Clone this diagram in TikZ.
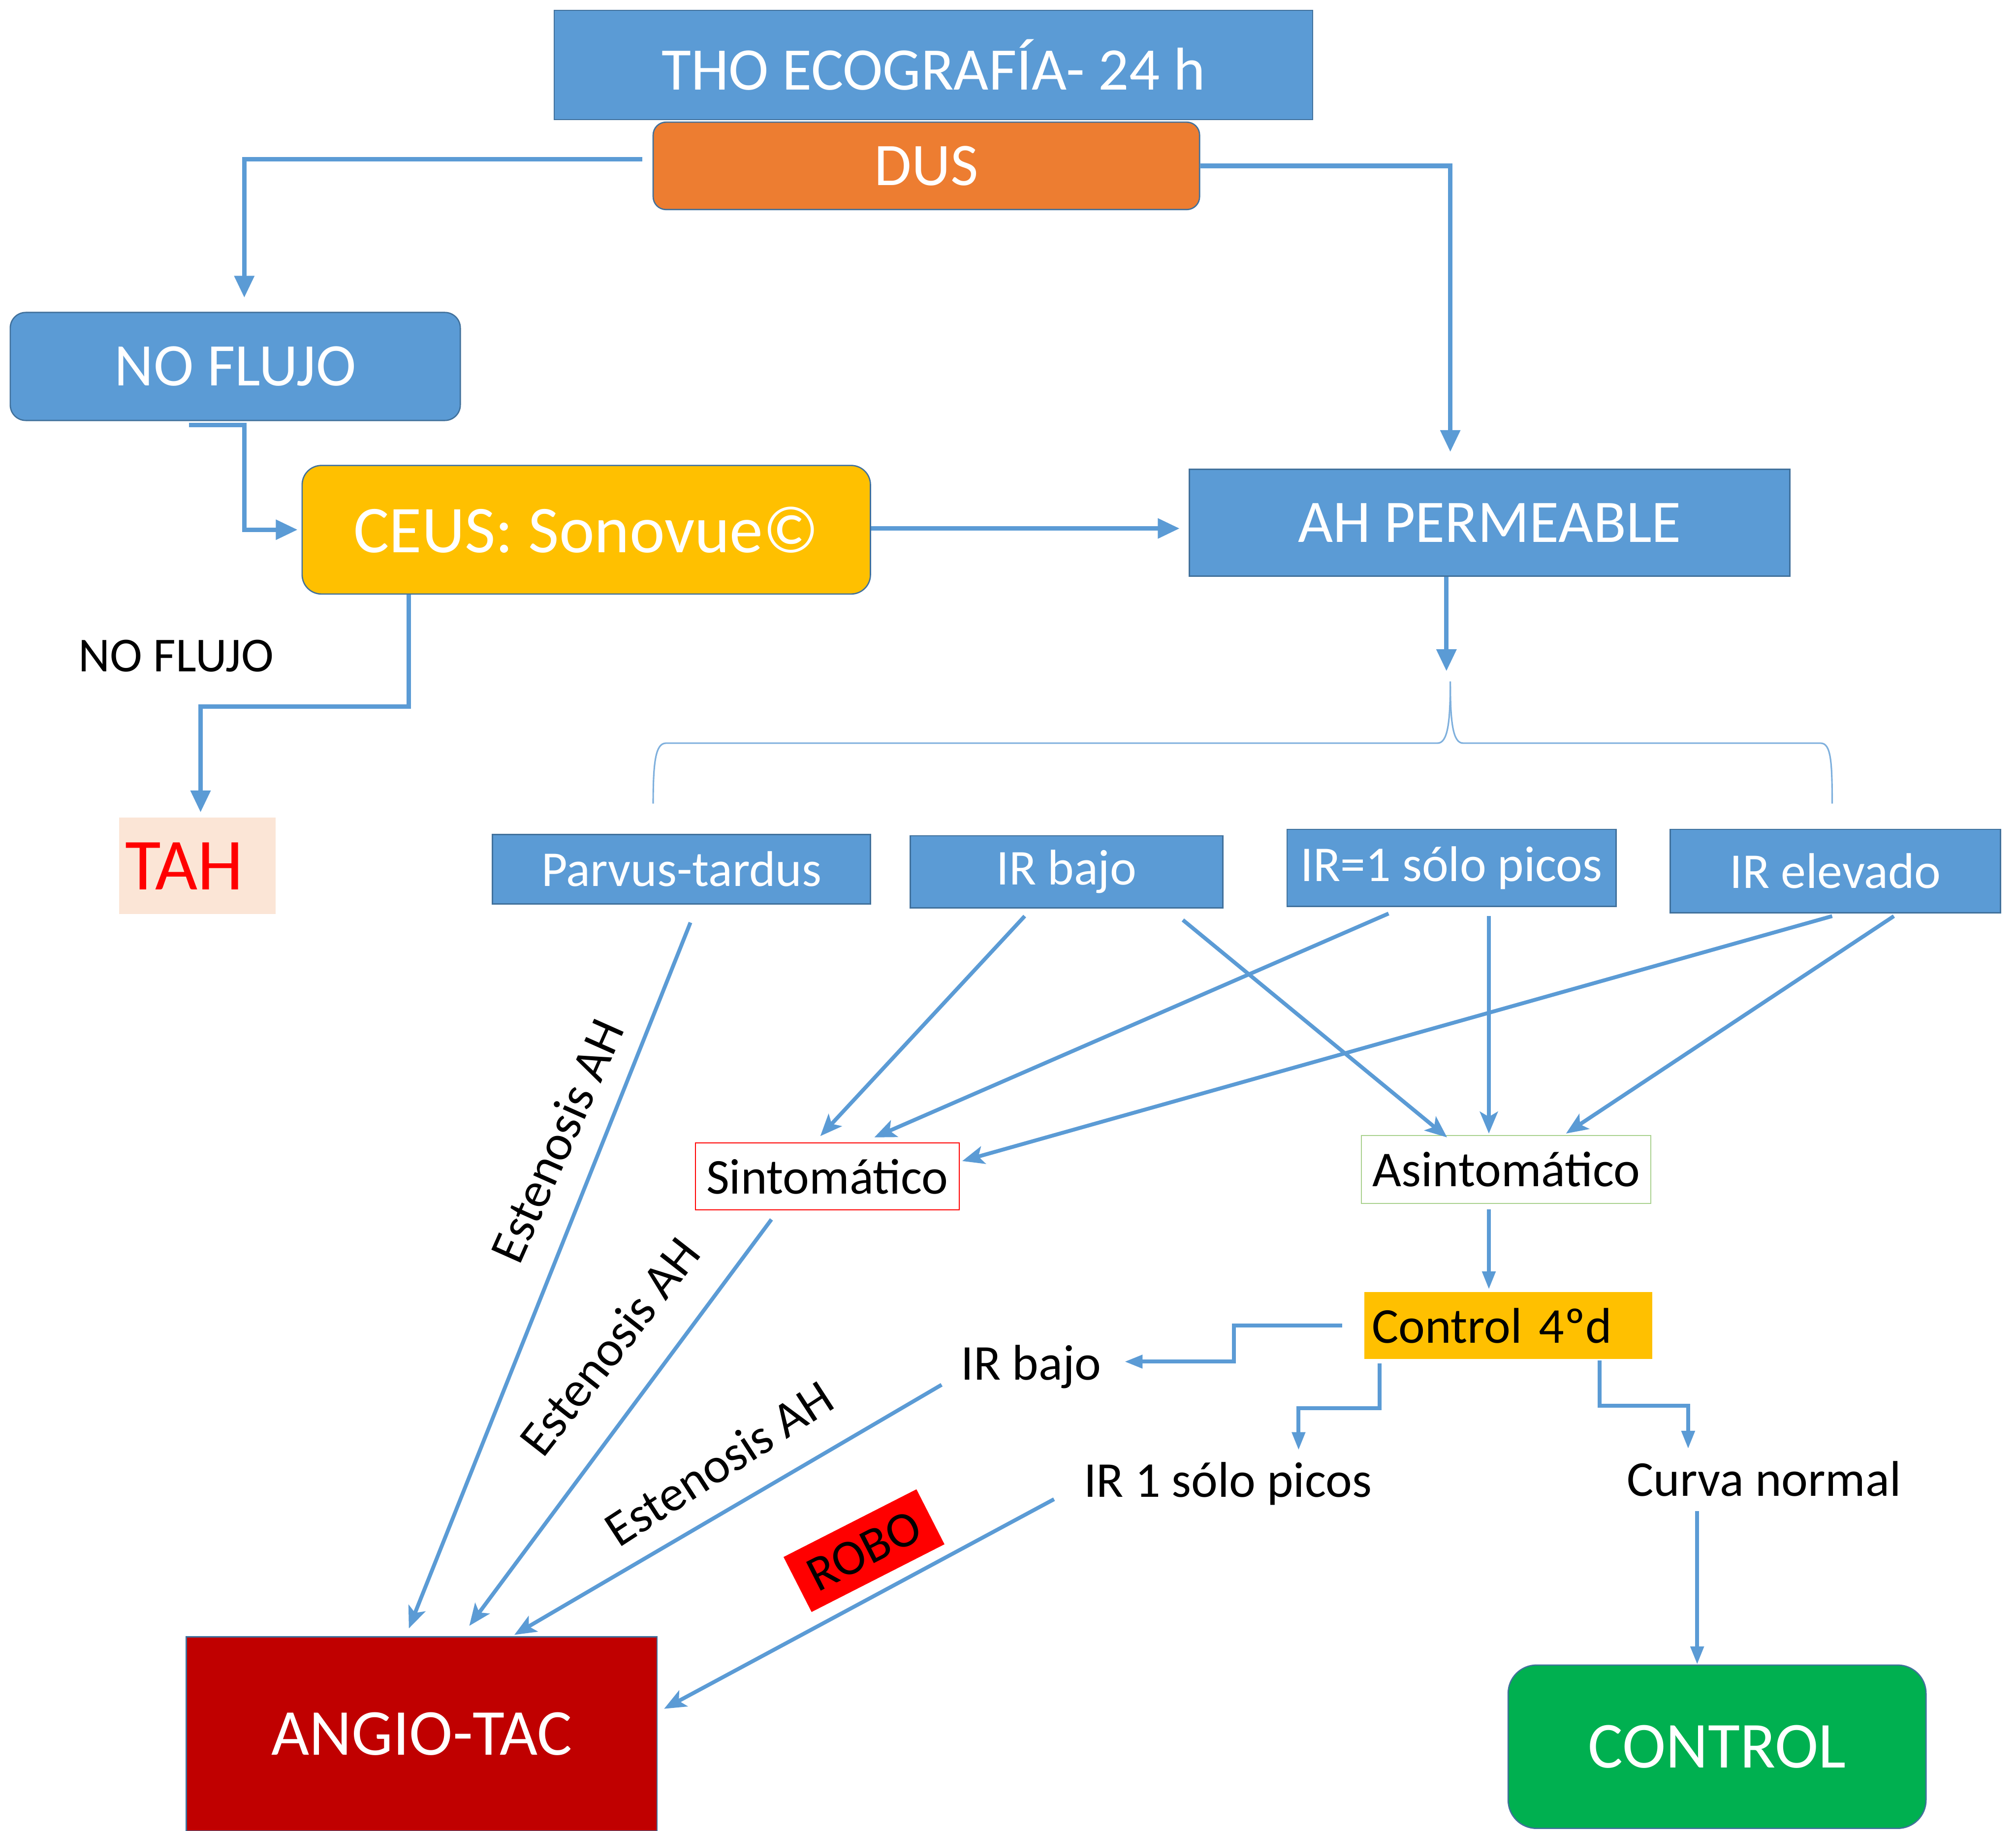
\documentclass[tikz,border=0pt]{standalone}
\usepackage{fontspec}
\setmainfont{Carlito}
\usetikzlibrary{arrows.meta,calc}
\definecolor{cblue}{HTML}{5B9BD5}
\definecolor{cborder}{HTML}{41719C}
\definecolor{corange}{HTML}{ED7D31}
\definecolor{cgold}{HTML}{FFC000}
\definecolor{cdred}{HTML}{C00000}
\definecolor{cgreen}{HTML}{00B050}
\definecolor{cpeach}{HTML}{FBE5D6}
\definecolor{clgreen}{HTML}{A9D18E}
\definecolor{cbrace}{HTML}{7FB0DD}
\tikzset{
  box/.style={inner sep=0pt, text=white, draw=cborder, line width=1pt},
  bluebox/.style={box, fill=cblue},
  lab/.style={inner sep=0pt, minimum height=40pt, text=black},
  conn/.style={draw=cblue, line width=3.5pt, -{Triangle[length=17pt,width=15pt]}},
  diag/.style={draw=cblue, line width=3pt, -{Stealth[length=17pt,width=14pt,inset=4pt]}},
  thinconn/.style={draw=cblue, line width=3pt, -{Triangle[length=14pt,width=10pt]}},
  brace/.style={draw=cbrace, line width=1.2pt},
  big/.style={font=\fontsize{47}{56}\selectfont},
  med/.style={font=\fontsize{39}{46}\selectfont},
}
\begin{document}
\begin{tikzpicture}[x=1pt,y=-1pt]
\useasboundingbox (0,0) rectangle (1568,1424);
% top nodes
\node[bluebox, big, minimum width=590pt, minimum height=85pt] (tho) at (726,50.5) {THO ECOGRAFÍA- 24 h};
\node[box, fill=corange, big, rounded corners=10pt, minimum width=425pt, minimum height=68pt] (dus) at (720.5,129) {DUS};
\node[bluebox, big, rounded corners=12pt, minimum width=350pt, minimum height=84pt] (nfl) at (183,285) {NO FLUJO};
\node[box, fill=cgold, font=\fontsize{52}{60}\selectfont, rounded corners=15pt, minimum width=442pt, minimum height=100pt] (ceus) at (456,412) {CEUS: Sonovue©};
\node[bluebox, big, minimum width=467pt, minimum height=83pt] (ahp) at (1158.5,406.5) {AH PERMEABLE};
\node[lab, font=\fontsize{38}{44}\selectfont] (nfl2) at (137,510) {NO FLUJO};
\node[inner sep=0pt, fill=cpeach, text=red, font=\fontsize{57}{64}\selectfont, minimum width=117pt, minimum height=75pt, text width=112pt, align=left, inner xsep=5pt] (tah) at (153.5,673.5) {TAH};
% level boxes
\node[bluebox, med, minimum width=294pt, minimum height=54pt] (parvus) at (530,676) {Parvus-tardus};
\node[bluebox, med, minimum width=243pt, minimum height=56pt] (irb) at (829.5,678) {IR bajo};
\node[bluebox, med, minimum width=256pt, minimum height=60pt] (ir1) at (1129,675) {IR=1 sólo picos};
\node[bluebox, med, minimum width=257pt, minimum height=65pt] (irel) at (1427.5,677.5) {IR elevado};
\node[inner sep=0pt, draw=red, line width=0.8pt, fill=white, med, minimum width=205pt, minimum height=52pt] (sint) at (643.5,915) {Sintomático};
\node[inner sep=0pt, draw=clgreen, line width=0.8pt, fill=white, med, minimum width=225pt, minimum height=53pt] (asint) at (1171.5,909.5) {Asintomático};
\node[inner sep=0pt, fill=cgold, med, minimum width=224pt, minimum height=52pt, text width=212pt, align=left, inner xsep=6pt] (c4) at (1173,1031) {Control 4ºd};
\node[lab, med] (irb2) at (802,1063) {IR bajo};
\node[lab, med] (ir1l) at (955,1154) {IR 1 sólo picos};
\node[lab, med] (curva) at (1372,1150) {Curva normal};
\node[box, fill=cdred, font=\fontsize{51}{60}\selectfont, minimum width=366pt, minimum height=151pt] (angio) at (328,1348.5) {ANGIO-TAC};
\node[box, fill=cgreen, font=\fontsize{51}{60}\selectfont, rounded corners=22pt, minimum width=325pt, minimum height=127pt] (ctrl) at (1335.5,1358.5) {CONTROL};
% rotated labels
\node[lab, med, rotate=66] (est1) at (433,887) {Estenosis AH};
\node[lab, med, rotate=52] (est2) at (474,1047) {Estenosis AH};
\node[lab, med, rotate=33] (est3) at (559,1138) {Estenosis AH};
\node[inner sep=0pt, fill=red, text=black, font=\fontsize{39}{46}\selectfont, rotate=27, minimum width=116pt, minimum height=48pt] (robo) at (672,1206) {ROBO};
% brace
\coordinate (bracetip) at (1125,522);
\draw[brace] (508,625) .. controls (508,592) and (510,578) .. (518,578) -- (1118,578) .. controls (1126,578) and (1128,562) .. (1128,530);
\draw[brace] (1128,530) .. controls (1128,562) and (1130,578) .. (1138,578) -- (1416,578) .. controls (1424,578) and (1425,592) .. (1425,625);
% top connectors
\draw[conn] ($(dus.west)+(-8,-5)$) -| ($(nfl.north)+(7,-11)$);
\draw[conn] (dus.east) -| ($(ahp.north)+(-30.5,-13)$);
\draw[conn] ($(nfl.south)+(-36,3)$) -- ++(43,0) |- ($(ceus.west)+(-3,0)$);
\draw[conn] ($(ceus.east)+(0,-1)$) -- ($(ahp.west)+(-7,4.5)$);
\draw[conn] ($(ceus.south)+(-138,0)$) -- ++(0,87) -| ($(tah.north)+(2.5,-4)$);
\draw[conn] (ahp.south -| bracetip) -- (bracetip);
% level to symptoms
\draw[diag] ($(parvus.south)+(7,14)$) -- ($(angio.north)+(-10,-6)$);
\draw[diag] ($(irb.south)+(-32.5,6)$) -- ($(sint.north)+(-5.5,-5)$);
\draw[diag] ($(irb.south)+(90.5,9)$) -- ($(asint.north)+(-46,2)$);
\draw[diag] ($(ir1.south)+(-49,5)$) -- ($(sint.north)+(36.5,-4)$);
\draw[diag] ($(ir1.south)+(29,7)$) -- ($(asint.north)+(-13.5,-1)$);
\draw[diag] ($(irel.south)+(-2.5,2)$) -- ($(sint.east)+(2,-12)$);
\draw[diag] ($(irel.south)+(45.5,2)$) -- ($(asint.north)+(46.5,-1)$);
\draw[thinconn] ($(asint.south)+(-13.5,4)$) -- ($(c4.north)+(-15,-2)$);
% control 4d branches
\draw[thinconn] ($(c4.west)+(-17,0)$) -- ++(-84,0) |- ($(irb2.east)+(18,-4)$);
\draw[thinconn] ($(c4.south)+(-100,3)$) -- ++(0,35) -| ($(ir1l.north)+(55,-6)$);
\draw[thinconn] ($(c4.south)+(71,1)$) -- ++(0,35) -| ($(curva.north)+(-59,-3)$);
\draw[thinconn] ($(curva.south)+(-52,5)$) -- ($(ctrl.north)+(-15.5,0)$);
% to angio
\draw[diag] ($(sint.south)+(-43.5,7)$) -- ($(angio.north)+(37,-8)$);
\draw[diag] ($(irb2.west)+(-15,14)$) -- ($(angio.north)+(72,-1)$);
\draw[diag] ($(ir1l.west)+(-23,12)$) -- ($(angio.east)+(5,-19.5)$);
\end{tikzpicture}
\end{document}
